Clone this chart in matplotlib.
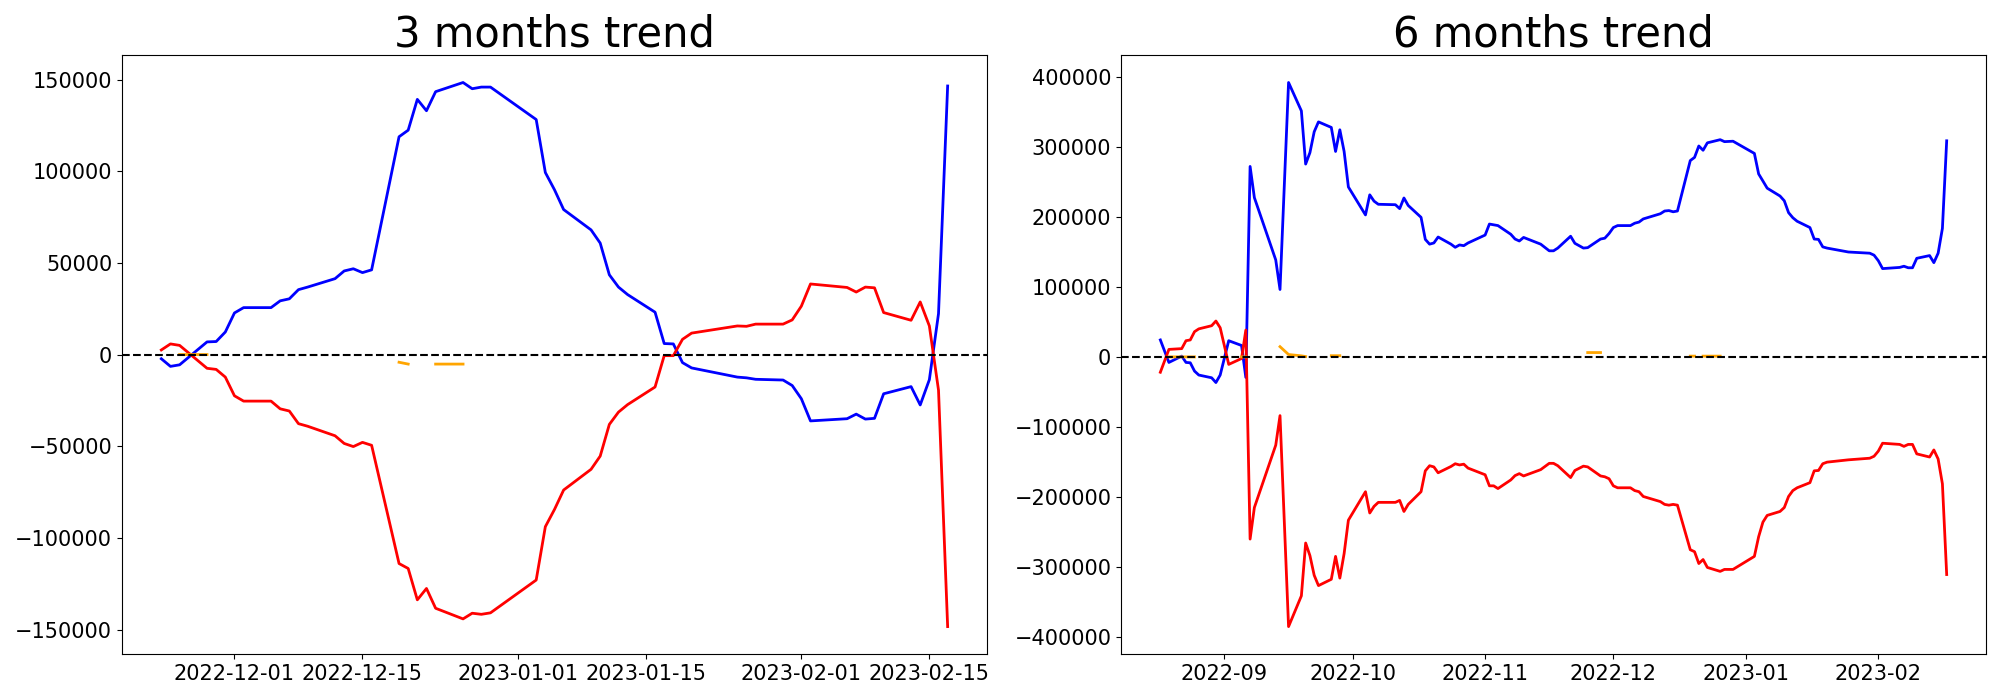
import numpy as np
import matplotlib.pyplot as plt

# 3 months window
dates_3m = ['2022-11-23', '2022-11-24', '2022-11-25', '2022-11-28', '2022-11-29', '2022-11-30',
            '2022-12-01', '2022-12-02', '2022-12-05', '2022-12-06', '2022-12-07', '2022-12-08',
            '2022-12-09', '2022-12-12', '2022-12-13', '2022-12-14', '2022-12-15', '2022-12-16',
            '2022-12-19', '2022-12-20', '2022-12-21', '2022-12-22', '2022-12-23', '2022-12-26',
            '2022-12-27', '2022-12-28', '2022-12-29', '2023-01-03', '2023-01-04', '2023-01-05',
            '2023-01-06', '2023-01-09', '2023-01-10', '2023-01-11', '2023-01-12', '2023-01-13',
            '2023-01-16', '2023-01-17', '2023-01-18', '2023-01-19', '2023-01-20', '2023-01-25',
            '2023-01-26', '2023-01-27', '2023-01-30', '2023-01-31', '2023-02-01', '2023-02-02',
            '2023-02-06', '2023-02-07', '2023-02-08', '2023-02-09', '2023-02-10', '2023-02-13',
            '2023-02-14', '2023-02-15', '2023-02-16', '2023-02-17']
blue_3m = [-2300, -6450, -5600, 6900, 7100, 12300, 22700, 25600, 25600, 29300, 30400, 35400,
           36800, 41400, 45600, 46800, 44700, 46200, 118800, 122400, 139200, 133000, 143400, 148400,
           145000, 145900, 145900, 128200, 99300, 89900, 79100, 68000, 60800, 43500, 36800, 32700,
           23100, 6000, 5800, -4400, -7300, -12300, -12700, -13500, -13900, -16900, -24100, -36200,
           -35000, -32500, -35200, -34800, -21400, -17500, -27500, -13700, 22300, 146500]
red_3m = [2500, 5800, 5000, -7500, -8100, -12300, -22500, -25400, -25400, -29600, -30800, -37700,
          -39100, -44300, -48500, -50200, -47900, -49500, -114000, -116700, -133800, -127600, -138400, -144200,
          -141100, -141700, -140900, -123000, -93900, -84500, -73900, -62600, -55400, -38100, -31400, -27300,
          -17700, -600, -600, 8300, 11700, 15600, 15400, 16600, 16600, 18900, 26400, 38500,
          36600, 34100, 36800, 36400, 22900, 18700, 28700, 15600, -19400, -148400]
nan = np.nan
orange_3m = [nan, nan, 0, 0, nan, nan, nan, nan, nan, nan, nan, nan,
             nan, nan, nan, nan, nan, nan, -4200, -5200, nan, nan, -5200, -5200,
             nan, nan, nan, nan, nan, nan, nan, nan, nan, nan, nan, nan,
             nan, nan, nan, nan, nan, nan, nan, nan, nan, nan, nan, nan,
             nan, nan, nan, nan, nan, nan, nan, nan, nan, nan]

# 6 months window
dates_6m = ['2022-08-17', '2022-08-19', '2022-08-22', '2022-08-23', '2022-08-24', '2022-08-25',
            '2022-08-26', '2022-08-29', '2022-08-30', '2022-08-31', '2022-09-02', '2022-09-05',
            '2022-09-06', '2022-09-07', '2022-09-08', '2022-09-13', '2022-09-14', '2022-09-16',
            '2022-09-19', '2022-09-20', '2022-09-21', '2022-09-22', '2022-09-23', '2022-09-26',
            '2022-09-27', '2022-09-28', '2022-09-29', '2022-09-30', '2022-10-04', '2022-10-05',
            '2022-10-06', '2022-10-07', '2022-10-11', '2022-10-12', '2022-10-13', '2022-10-14',
            '2022-10-17', '2022-10-18', '2022-10-19', '2022-10-20', '2022-10-21', '2022-10-24',
            '2022-10-25', '2022-10-26', '2022-10-27', '2022-10-28', '2022-11-01', '2022-11-02',
            '2022-11-03', '2022-11-04', '2022-11-07', '2022-11-08', '2022-11-09', '2022-11-10',
            '2022-11-14', '2022-11-16', '2022-11-17', '2022-11-18', '2022-11-21', '2022-11-22',
            '2022-11-24', '2022-11-25', '2022-11-28', '2022-11-29', '2022-11-30', '2022-12-01',
            '2022-12-02', '2022-12-05', '2022-12-06', '2022-12-07', '2022-12-08', '2022-12-12',
            '2022-12-13', '2022-12-14', '2022-12-15', '2022-12-16', '2022-12-19', '2022-12-20',
            '2022-12-21', '2022-12-22', '2022-12-23', '2022-12-26', '2022-12-27', '2022-12-29',
            '2023-01-03', '2023-01-04', '2023-01-05', '2023-01-06', '2023-01-09', '2023-01-10',
            '2023-01-11', '2023-01-12', '2023-01-13', '2023-01-16', '2023-01-17', '2023-01-18',
            '2023-01-19', '2023-01-20', '2023-01-25', '2023-01-30', '2023-01-31', '2023-02-01',
            '2023-02-02', '2023-02-06', '2023-02-07', '2023-02-08', '2023-02-09', '2023-02-10',
            '2023-02-13', '2023-02-14', '2023-02-15', '2023-02-16', '2023-02-17']
blue_6m = [24200, -7900, 1100, -7900, -8400, -20300,
           -25900, -29800, -36600, -25900, 23100, 16300,
           -29300, 271800, 227300, 138400, 96200, 391600,
           351100, 275200, 291500, 321300, 335400, 327500,
           293200, 324100, 293200, 242500, 202600, 231300,
           222300, 217800, 217200, 211600, 226800, 216100,
           199200, 167700, 160900, 162600, 171100, 160900,
           156400, 159800, 158700, 162600, 173900, 189600,
           188500, 187400, 175000, 168200, 165400, 170500,
           160900, 151400, 151400, 155300, 172200, 162100,
           155300, 155900, 168200, 169400, 176100, 184600,
           187400, 187400, 190800, 192400, 196900, 204300,
           208200, 208800, 207100, 208200, 280200, 284700,
           301000, 294900, 305500, 310000, 307200, 307800,
           290400, 261100, 251000, 240800, 229600, 222800,
           205900, 198600, 193600, 184600, 168200, 167700,
           157000, 155300, 149700, 148000, 145200, 137300,
           126000, 127700, 129400, 127200, 127200, 140700,
           144600, 134500, 148000, 183400, 308400]
red_6m = [-21900, 10700, 11800, 23100, 24200, 36000,
          40000, 44500, 51200, 41600, -10700, -2300,
          38300, -260000, -215000, -126000, -83800, -384900,
          -341000, -265600, -283600, -311700, -326400, -317400,
          -284700, -315700, -280800, -233000, -192400, -222800,
          -213300, -207600, -207600, -204800, -220600, -210500,
          -192400, -162600, -155300, -157000, -165400, -156400,
          -152500, -154200, -153100, -158700, -168200, -184000,
          -184000, -187900, -175600, -169400, -166600, -169900,
          -160900, -151900, -151900, -155300, -172200, -162100,
          -155900, -157000, -169900, -171100, -173900, -184000,
          -186800, -186800, -190800, -192400, -199200, -206500,
          -210500, -211600, -210500, -211600, -275200, -278000,
          -294900, -289200, -300500, -306100, -303300, -303300,
          -284700, -256600, -235800, -226200, -220600, -215000,
          -199200, -190800, -186800, -179500, -162600, -162100,
          -152500, -150200, -146900, -144600, -141800, -134500,
          -123200, -124900, -127700, -124900, -124900, -138400,
          -142900, -132800, -145700, -181200, -310600]
orange_6m = [nan, 0, 0, 0, 0, 0,
             nan, nan, nan, nan, nan, 0,
             0, nan, nan, nan, 14600, 3400,
             1500, 500, nan, nan, nan, 1700,
             1700, 1700, nan, nan, nan, nan,
             nan, nan, nan, nan, nan, nan,
             nan, nan, nan, nan, nan, nan,
             nan, nan, nan, nan, nan, nan,
             nan, nan, nan, nan, nan, nan,
             nan, nan, nan, nan, nan, nan,
             nan, 6200, 6200, nan, nan, nan,
             nan, nan, nan, nan, nan, nan,
             nan, nan, nan, nan, 1100, 1100,
             nan, 1100, 1100, 1100, nan, nan,
             nan, nan, nan, nan, nan, nan,
             nan, nan, nan, nan, nan, nan,
             nan, nan, nan, nan, nan, nan,
             nan, nan, nan, nan, nan, nan,
             nan, nan, nan, nan, nan]

titles = ['3 months trend', '6 months trend']

fig, axes = plt.subplots(1, 2, figsize=(20, 7), dpi=100)
panels = [(dates_3m, blue_3m, red_3m, orange_3m), (dates_6m, blue_6m, red_6m, orange_6m)]
for ax, (d, b, r, o), title in zip(axes, panels, titles):
    x = np.array(d, dtype='datetime64[D]')
    ax.plot(x, b, color='blue', lw=2)
    ax.plot(x, r, color='red', lw=2)
    ax.plot(x, np.array(o, dtype=float), color='orange', lw=2)
    ax.axhline(0, color='black', linestyle='--', lw=1.5)
    ax.set_title(title, fontsize=30)
    ax.tick_params(labelsize=15)

plt.subplots_adjust(left=0.061, right=0.993, bottom=0.066, top=0.921, wspace=0.155)
plt.savefig('out.png')
